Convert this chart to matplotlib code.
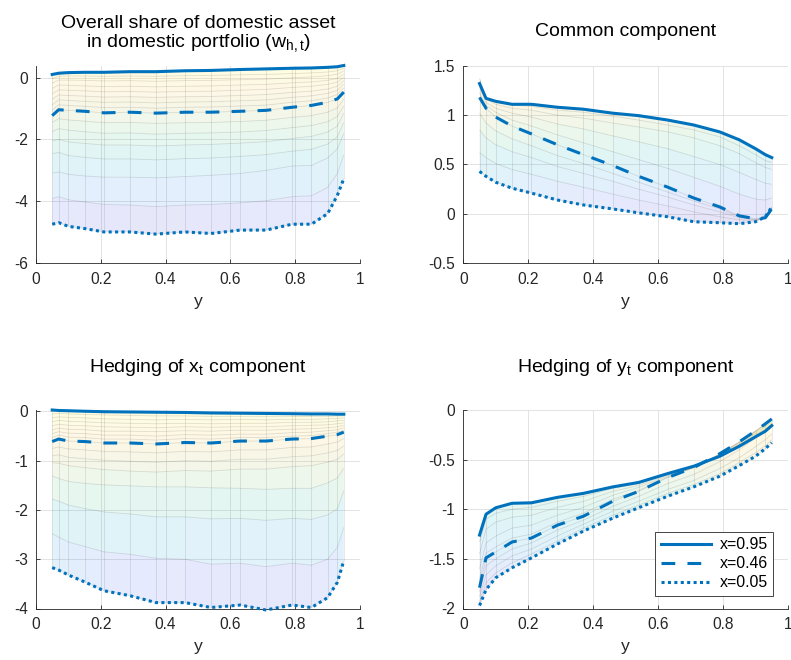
import numpy as np
import matplotlib
matplotlib.use("Agg")
import matplotlib.pyplot as plt
from matplotlib.collections import PolyCollection, LineCollection
from matplotlib.colors import LinearSegmentedColormap, Normalize

plt.rcParams['font.family'] = ['Liberation Sans', 'DejaVu Sans']
plt.rcParams['axes.unicode_minus'] = False
plt.rcParams['mathtext.fontset'] = 'custom'
plt.rcParams['mathtext.rm'] = 'Liberation Sans'
plt.rcParams['mathtext.it'] = 'Liberation Sans'
plt.rcParams['mathtext.default'] = 'regular'

# ---------------- data ----------------
y_grid = [0.05, 0.07, 0.10, 0.15, 0.21, 0.29, 0.37, 0.46, 0.54, 0.63, 0.71, 0.79, 0.85, 0.90, 0.93, 0.95]
line_labels = ['x=0.95', 'x=0.46', 'x=0.05']

titles = ['Overall share of domestic asset\nin domestic portfolio (w$_{h,t}$)',
          'Common component',
          'Hedging of x$_{t}$ component',
          'Hedging of y$_{t}$ component']
x_label = 'y'

# Panel 1: overall share
overall_x095 = [0.10, 0.14, 0.16, 0.17, 0.17, 0.19, 0.19, 0.22, 0.23, 0.26, 0.28, 0.30, 0.31, 0.33, 0.35, 0.39]
overall_x046 = [-1.23, -1.04, -1.06, -1.09, -1.14, -1.12, -1.15, -1.12, -1.12, -1.09, -1.06, -0.96, -0.90, -0.80, -0.69, -0.47]
overall_x005 = [-4.74, -4.69, -4.81, -4.88, -4.99, -4.99, -5.06, -4.99, -5.04, -4.93, -4.93, -4.74, -4.74, -4.40, -3.81, -3.27]
overall_mesh_low = [
    [-3.91, -3.85, -3.95, -4.02, -4.10, -4.12, -4.17, -4.12, -4.10, -4.05, -3.98, -3.85, -3.82, -3.55, -3.10, -2.50],
    [-3.09, -3.05, -3.13, -3.18, -3.22, -3.22, -3.24, -3.20, -3.16, -3.10, -3.00, -2.86, -2.84, -2.60, -2.30, -1.80],
    [-2.46, -2.42, -2.52, -2.58, -2.63, -2.63, -2.66, -2.62, -2.60, -2.55, -2.49, -2.38, -2.32, -2.15, -1.92, -1.45],
    [-2.05, -2.00, -2.08, -2.13, -2.18, -2.18, -2.21, -2.18, -2.16, -2.12, -2.07, -1.97, -1.90, -1.76, -1.57, -1.15],
    [-1.75, -1.65, -1.70, -1.75, -1.80, -1.79, -1.83, -1.80, -1.79, -1.76, -1.71, -1.62, -1.55, -1.43, -1.26, -0.92],
    [-1.45, -1.33, -1.37, -1.41, -1.46, -1.45, -1.48, -1.46, -1.45, -1.42, -1.38, -1.29, -1.23, -1.12, -0.98, -0.70],
]
overall_mesh_high = [
    [-1.05, -0.88, -0.90, -0.93, -0.97, -0.96, -0.99, -0.96, -0.95, -0.92, -0.89, -0.80, -0.75, -0.66, -0.55, -0.33],
    [-0.88, -0.72, -0.74, -0.77, -0.80, -0.79, -0.82, -0.79, -0.78, -0.75, -0.72, -0.64, -0.59, -0.51, -0.41, -0.21],
    [-0.70, -0.56, -0.58, -0.60, -0.63, -0.62, -0.64, -0.62, -0.61, -0.58, -0.55, -0.48, -0.44, -0.37, -0.28, -0.10],
    [-0.52, -0.40, -0.41, -0.43, -0.46, -0.45, -0.47, -0.45, -0.44, -0.41, -0.38, -0.32, -0.28, -0.22, -0.15, 0.01],
    [-0.35, -0.24, -0.25, -0.27, -0.29, -0.28, -0.30, -0.28, -0.27, -0.24, -0.22, -0.17, -0.14, -0.09, -0.03, 0.11],
    [-0.18, -0.08, -0.08, -0.09, -0.11, -0.10, -0.12, -0.10, -0.09, -0.07, -0.05, -0.01, 0.02, 0.06, 0.11, 0.21],
    [-0.04, 0.04, 0.05, 0.05, 0.04, 0.05, 0.04, 0.06, 0.07, 0.09, 0.10, 0.13, 0.15, 0.18, 0.22, 0.30],
]

# Panel 2: common component
common_x095 = [1.32, 1.17, 1.14, 1.11, 1.11, 1.08, 1.06, 1.02, 0.995, 0.95, 0.90, 0.83, 0.75, 0.66, 0.60, 0.57]
common_x046 = [1.18, 1.07, 0.98, 0.89, 0.81, 0.70, 0.60, 0.49, 0.38, 0.27, 0.16, 0.07, -0.02, -0.05, -0.04, 0.05]
common_x005 = [0.43, 0.38, 0.32, 0.26, 0.21, 0.14, 0.09, 0.05, 0.01, -0.03, -0.08, -0.09, -0.10, -0.08, -0.03, 0.07]
common_mesh_low = [
    [0.62, 0.57, 0.51, 0.45, 0.40, 0.33, 0.27, 0.20, 0.14, 0.08, 0.02, -0.03, -0.06, -0.07, -0.04, 0.06],
    [0.85, 0.77, 0.70, 0.63, 0.57, 0.48, 0.41, 0.33, 0.25, 0.17, 0.09, 0.02, -0.04, -0.06, -0.04, 0.06],
    [1.02, 0.92, 0.84, 0.76, 0.69, 0.59, 0.51, 0.41, 0.32, 0.22, 0.13, 0.05, -0.03, -0.06, -0.04, 0.06],
]
common_mesh_high = [
    [1.23, 1.10, 1.03, 0.95, 0.89, 0.80, 0.72, 0.63, 0.55, 0.46, 0.37, 0.28, 0.20, 0.15, 0.14, 0.16],
    [1.28, 1.13, 1.07, 1.02, 0.98, 0.91, 0.86, 0.79, 0.73, 0.66, 0.58, 0.50, 0.42, 0.35, 0.31, 0.30],
    [1.33, 1.16, 1.11, 1.07, 1.05, 1.00, 0.97, 0.92, 0.88, 0.83, 0.77, 0.69, 0.61, 0.52, 0.47, 0.45],
    [1.37, 1.17, 1.13, 1.10, 1.09, 1.05, 1.03, 0.99, 0.95, 0.90, 0.85, 0.78, 0.69, 0.60, 0.54, 0.52],
]

# Panel 3: hedging of x_t
hx_x095 = [0.03, 0.02, 0.015, 0.005, -0.005, -0.01, -0.015, -0.02, -0.03, -0.035, -0.04, -0.045, -0.05, -0.05, -0.055, -0.055]
hx_x046 = [-0.61, -0.56, -0.60, -0.61, -0.64, -0.64, -0.66, -0.63, -0.64, -0.60, -0.60, -0.56, -0.55, -0.50, -0.47, -0.42]
hx_x005 = [-3.17, -3.22, -3.32, -3.46, -3.64, -3.74, -3.88, -3.88, -3.98, -3.93, -4.03, -3.93, -3.98, -3.78, -3.47, -3.03]
hx_mesh_low = [
    [-2.48, -2.55, -2.65, -2.74, -2.85, -2.90, -2.98, -3.00, -3.10, -3.08, -3.15, -3.08, -3.12, -3.00, -2.76, -2.35],
    [-1.78, -1.82, -1.90, -1.97, -2.04, -2.08, -2.14, -2.14, -2.18, -2.17, -2.21, -2.17, -2.19, -2.10, -1.98, -1.60],
    [-1.31, -1.36, -1.42, -1.46, -1.49, -1.51, -1.53, -1.53, -1.55, -1.56, -1.58, -1.56, -1.56, -1.45, -1.35, -1.15],
    [-1.04, -1.05, -1.10, -1.14, -1.18, -1.21, -1.23, -1.20, -1.21, -1.17, -1.17, -1.12, -1.10, -1.03, -0.97, -0.86],
    [-0.90, -0.88, -0.93, -0.96, -0.99, -1.01, -1.03, -1.00, -1.01, -0.97, -0.97, -0.92, -0.90, -0.84, -0.79, -0.70],
    [-0.75, -0.72, -0.76, -0.78, -0.81, -0.82, -0.84, -0.81, -0.82, -0.78, -0.78, -0.73, -0.72, -0.66, -0.62, -0.55],
]
hx_mesh_high = [
    [-0.53, -0.48, -0.52, -0.53, -0.56, -0.56, -0.58, -0.55, -0.56, -0.53, -0.53, -0.50, -0.49, -0.45, -0.42, -0.38],
    [-0.45, -0.41, -0.44, -0.45, -0.48, -0.48, -0.50, -0.47, -0.48, -0.46, -0.46, -0.43, -0.42, -0.39, -0.37, -0.33],
    [-0.37, -0.34, -0.36, -0.37, -0.40, -0.40, -0.41, -0.39, -0.40, -0.38, -0.38, -0.36, -0.35, -0.33, -0.31, -0.28],
    [-0.29, -0.26, -0.28, -0.29, -0.31, -0.32, -0.33, -0.31, -0.32, -0.31, -0.31, -0.29, -0.28, -0.27, -0.25, -0.23],
    [-0.21, -0.18, -0.20, -0.21, -0.23, -0.24, -0.25, -0.24, -0.25, -0.24, -0.24, -0.22, -0.22, -0.21, -0.19, -0.18],
    [-0.13, -0.11, -0.12, -0.13, -0.15, -0.16, -0.17, -0.16, -0.17, -0.16, -0.17, -0.16, -0.16, -0.15, -0.14, -0.13],
    [-0.05, -0.04, -0.05, -0.06, -0.07, -0.08, -0.09, -0.09, -0.10, -0.10, -0.10, -0.10, -0.10, -0.10, -0.09, -0.09],
]

# Panel 4: hedging of y_t
hy_x095 = [-1.26, -1.05, -0.985, -0.94, -0.935, -0.88, -0.84, -0.775, -0.73, -0.64, -0.566, -0.466, -0.365, -0.27, -0.214, -0.157]
hy_x046 = [-1.79, -1.49, -1.43, -1.33, -1.29, -1.16, -1.07, -0.92, -0.82, -0.68, -0.58, -0.44, -0.32, -0.21, -0.14, -0.09]
hy_x005 = [-1.97, -1.81, -1.69, -1.59, -1.49, -1.35, -1.22, -1.09, -0.985, -0.868, -0.774, -0.667, -0.56, -0.466, -0.39, -0.33]
hy_mesh_low = [
    [-1.93, -1.74, -1.64, -1.54, -1.45, -1.32, -1.19, -1.06, -0.96, -0.84, -0.75, -0.64, -0.53, -0.43, -0.36, -0.30],
    [-1.88, -1.66, -1.57, -1.47, -1.40, -1.27, -1.15, -1.02, -0.92, -0.80, -0.71, -0.59, -0.48, -0.37, -0.30, -0.24],
    [-1.83, -1.57, -1.50, -1.40, -1.34, -1.21, -1.11, -0.97, -0.87, -0.74, -0.65, -0.52, -0.40, -0.28, -0.21, -0.16],
]
hy_mesh_high = [
    [-1.70, -1.44, -1.38, -1.29, -1.25, -1.13, -1.04, -0.90, -0.81, -0.675, -0.58, -0.445, -0.325, -0.215, -0.143, -0.095],
    [-1.60, -1.34, -1.27, -1.19, -1.16, -1.06, -0.98, -0.86, -0.78, -0.665, -0.578, -0.45, -0.33, -0.22, -0.148, -0.10],
    [-1.45, -1.20, -1.13, -1.08, -1.06, -0.98, -0.92, -0.82, -0.76, -0.655, -0.575, -0.455, -0.345, -0.235, -0.17, -0.12],
    [-1.33, -1.10, -1.04, -1.00, -0.98, -0.92, -0.87, -0.79, -0.74, -0.645, -0.57, -0.46, -0.355, -0.25, -0.19, -0.14],
]

y_limits = [(-6, 0.38), (-0.5, 1.5), (-4, 0.03), (-2, 0)]
y_ticks = [[-6, -4, -2, 0], [-0.5, 0, 0.5, 1, 1.5], [-4, -3, -2, -1, 0], [-2, -1.5, -1, -0.5, 0]]
x_ticks = [0, 0.2, 0.4, 0.6, 0.8, 1]

# ---------------- style ----------------
parula = LinearSegmentedColormap.from_list('parula_like', [
    (0.00, (0.2422, 0.1504, 0.6603)),
    (0.15, (0.2760, 0.3720, 0.9790)),
    (0.30, (0.1120, 0.5950, 0.8930)),
    (0.45, (0.0580, 0.7040, 0.7780)),
    (0.60, (0.3300, 0.7800, 0.5100)),
    (0.75, (0.7400, 0.7500, 0.2900)),
    (0.87, (0.9900, 0.7700, 0.2300)),
    (1.00, (0.9769, 0.9839, 0.0805)),
])
LINE_COLOR = '#0072BD'
AX_COLOR = '#262626'
W, H = 791, 660

fig = plt.figure(figsize=(W / 100, H / 100), dpi=100)

# axes boxes in pixels: left, top, right, bottom
boxes = [(36, 65.8, 360, 263.2), (463.3, 65.8, 788, 263.2),
         (36, 410, 360, 608.5), (463.3, 410, 788, 608.5)]


def px_axes(b):
    l, t, r, btm = b
    return fig.add_axes([l / W, 1 - btm / H, (r - l) / W, (btm - t) / H])


def draw_surface(ax, curves):
    Z = np.array(curves, dtype=float)
    Y = np.array(y_grid, dtype=float)
    norm = Normalize(Z.min(), Z.max())
    polys, vals = [], []
    for i in range(Z.shape[0] - 1):
        for j in range(len(Y) - 1):
            polys.append([(Y[j], Z[i, j]), (Y[j + 1], Z[i, j + 1]),
                          (Y[j + 1], Z[i + 1, j + 1]), (Y[j], Z[i + 1, j])])
            vals.append(Z[i:i + 2, j:j + 2].mean())
    fc = parula(norm(np.array(vals)))
    fc[:, 3] = 0.13
    ax.add_collection(PolyCollection(polys, facecolors=fc, edgecolors='none',
                                     linewidths=0, zorder=1))
    segs = [np.column_stack([Y, Z[i]]) for i in range(Z.shape[0])]
    segs += [[(Y[j], Z[:, j].min()), (Y[j], Z[:, j].max())] for j in range(len(Y))]
    ax.add_collection(LineCollection(segs, colors=[(0, 0, 0, 0.11)],
                                     linewidths=0.6, zorder=2))


panels = [
    (overall_x095, overall_x046, overall_x005, overall_mesh_low, overall_mesh_high),
    (common_x095, common_x046, common_x005, common_mesh_low, common_mesh_high),
    (hx_x095, hx_x046, hx_x005, hx_mesh_low, hx_mesh_high),
    (hy_x095, hy_x046, hy_x005, hy_mesh_low, hy_mesh_high),
]

axes = []
for k, (s_hi, s_mid, s_lo, m_lo, m_hi) in enumerate(panels):
    ax = px_axes(boxes[k])
    axes.append(ax)
    curves = [s_lo] + m_lo + [s_mid] + m_hi + [s_hi]
    draw_surface(ax, curves)
    l1, = ax.plot(y_grid, s_hi, color=LINE_COLOR, lw=2.2, ls='-', zorder=5,
                  clip_on=False, solid_joinstyle='round', label=line_labels[0])
    l2, = ax.plot(y_grid, s_mid, color=LINE_COLOR, lw=2.2, ls=(0, (4.5, 4.0)), zorder=5,
                  clip_on=False, dash_joinstyle='round', label=line_labels[1])
    l3, = ax.plot(y_grid, s_lo, color=LINE_COLOR, lw=2.2, ls=(0, (1.0, 1.1)), zorder=5,
                  clip_on=False, label=line_labels[2])
    ax.set_xlim(0, 1)
    ax.set_ylim(*y_limits[k])
    ax.set_xticks(x_ticks)
    ax.set_xticklabels([f"{v:g}" for v in x_ticks])
    ax.set_yticks(y_ticks[k])
    ax.set_yticklabels([f"{v:g}" for v in y_ticks[k]])
    ax.grid(True, color='#dedede', lw=0.6)
    ax.set_axisbelow(True)
    for sp in ('top', 'right'):
        ax.spines[sp].set_visible(False)
    for sp in ('left', 'bottom'):
        ax.spines[sp].set_color(AX_COLOR)
        ax.spines[sp].set_linewidth(0.6)
    ax.tick_params(direction='in', length=3, width=0.6, colors=AX_COLOR,
                   labelsize=11.2, pad=6)
    ax.set_xlabel(x_label, fontsize=12.6, color=AX_COLOR, labelpad=5.5)
    if k == 3:
        leg = ax.legend(handles=[l1, l2, l3], loc='lower right',
                        bbox_to_anchor=(0.954, 0.065), borderaxespad=0,
                        fontsize=11.4, frameon=True, fancybox=False,
                        edgecolor=AX_COLOR, framealpha=1, handlelength=3.2,
                        handletextpad=0.5, labelspacing=0.25, borderpad=0.35)
        leg.get_frame().set_linewidth(0.6)

# titles (pixel baselines)
title_pos = [(198, [28.3, 46.5]), (625.6, [36.0]), (198, [372.3]), (625.6, [371.7])]
for k, (cx, bls) in enumerate(title_pos):
    lines = titles[k].split('\n')
    for line, bl in zip(lines, bls):
        fig.text(cx / W, 1 - bl / H, line, ha='center', va='baseline',
                 fontsize=14, color='black')

fig.savefig('out.png', dpi=100)
